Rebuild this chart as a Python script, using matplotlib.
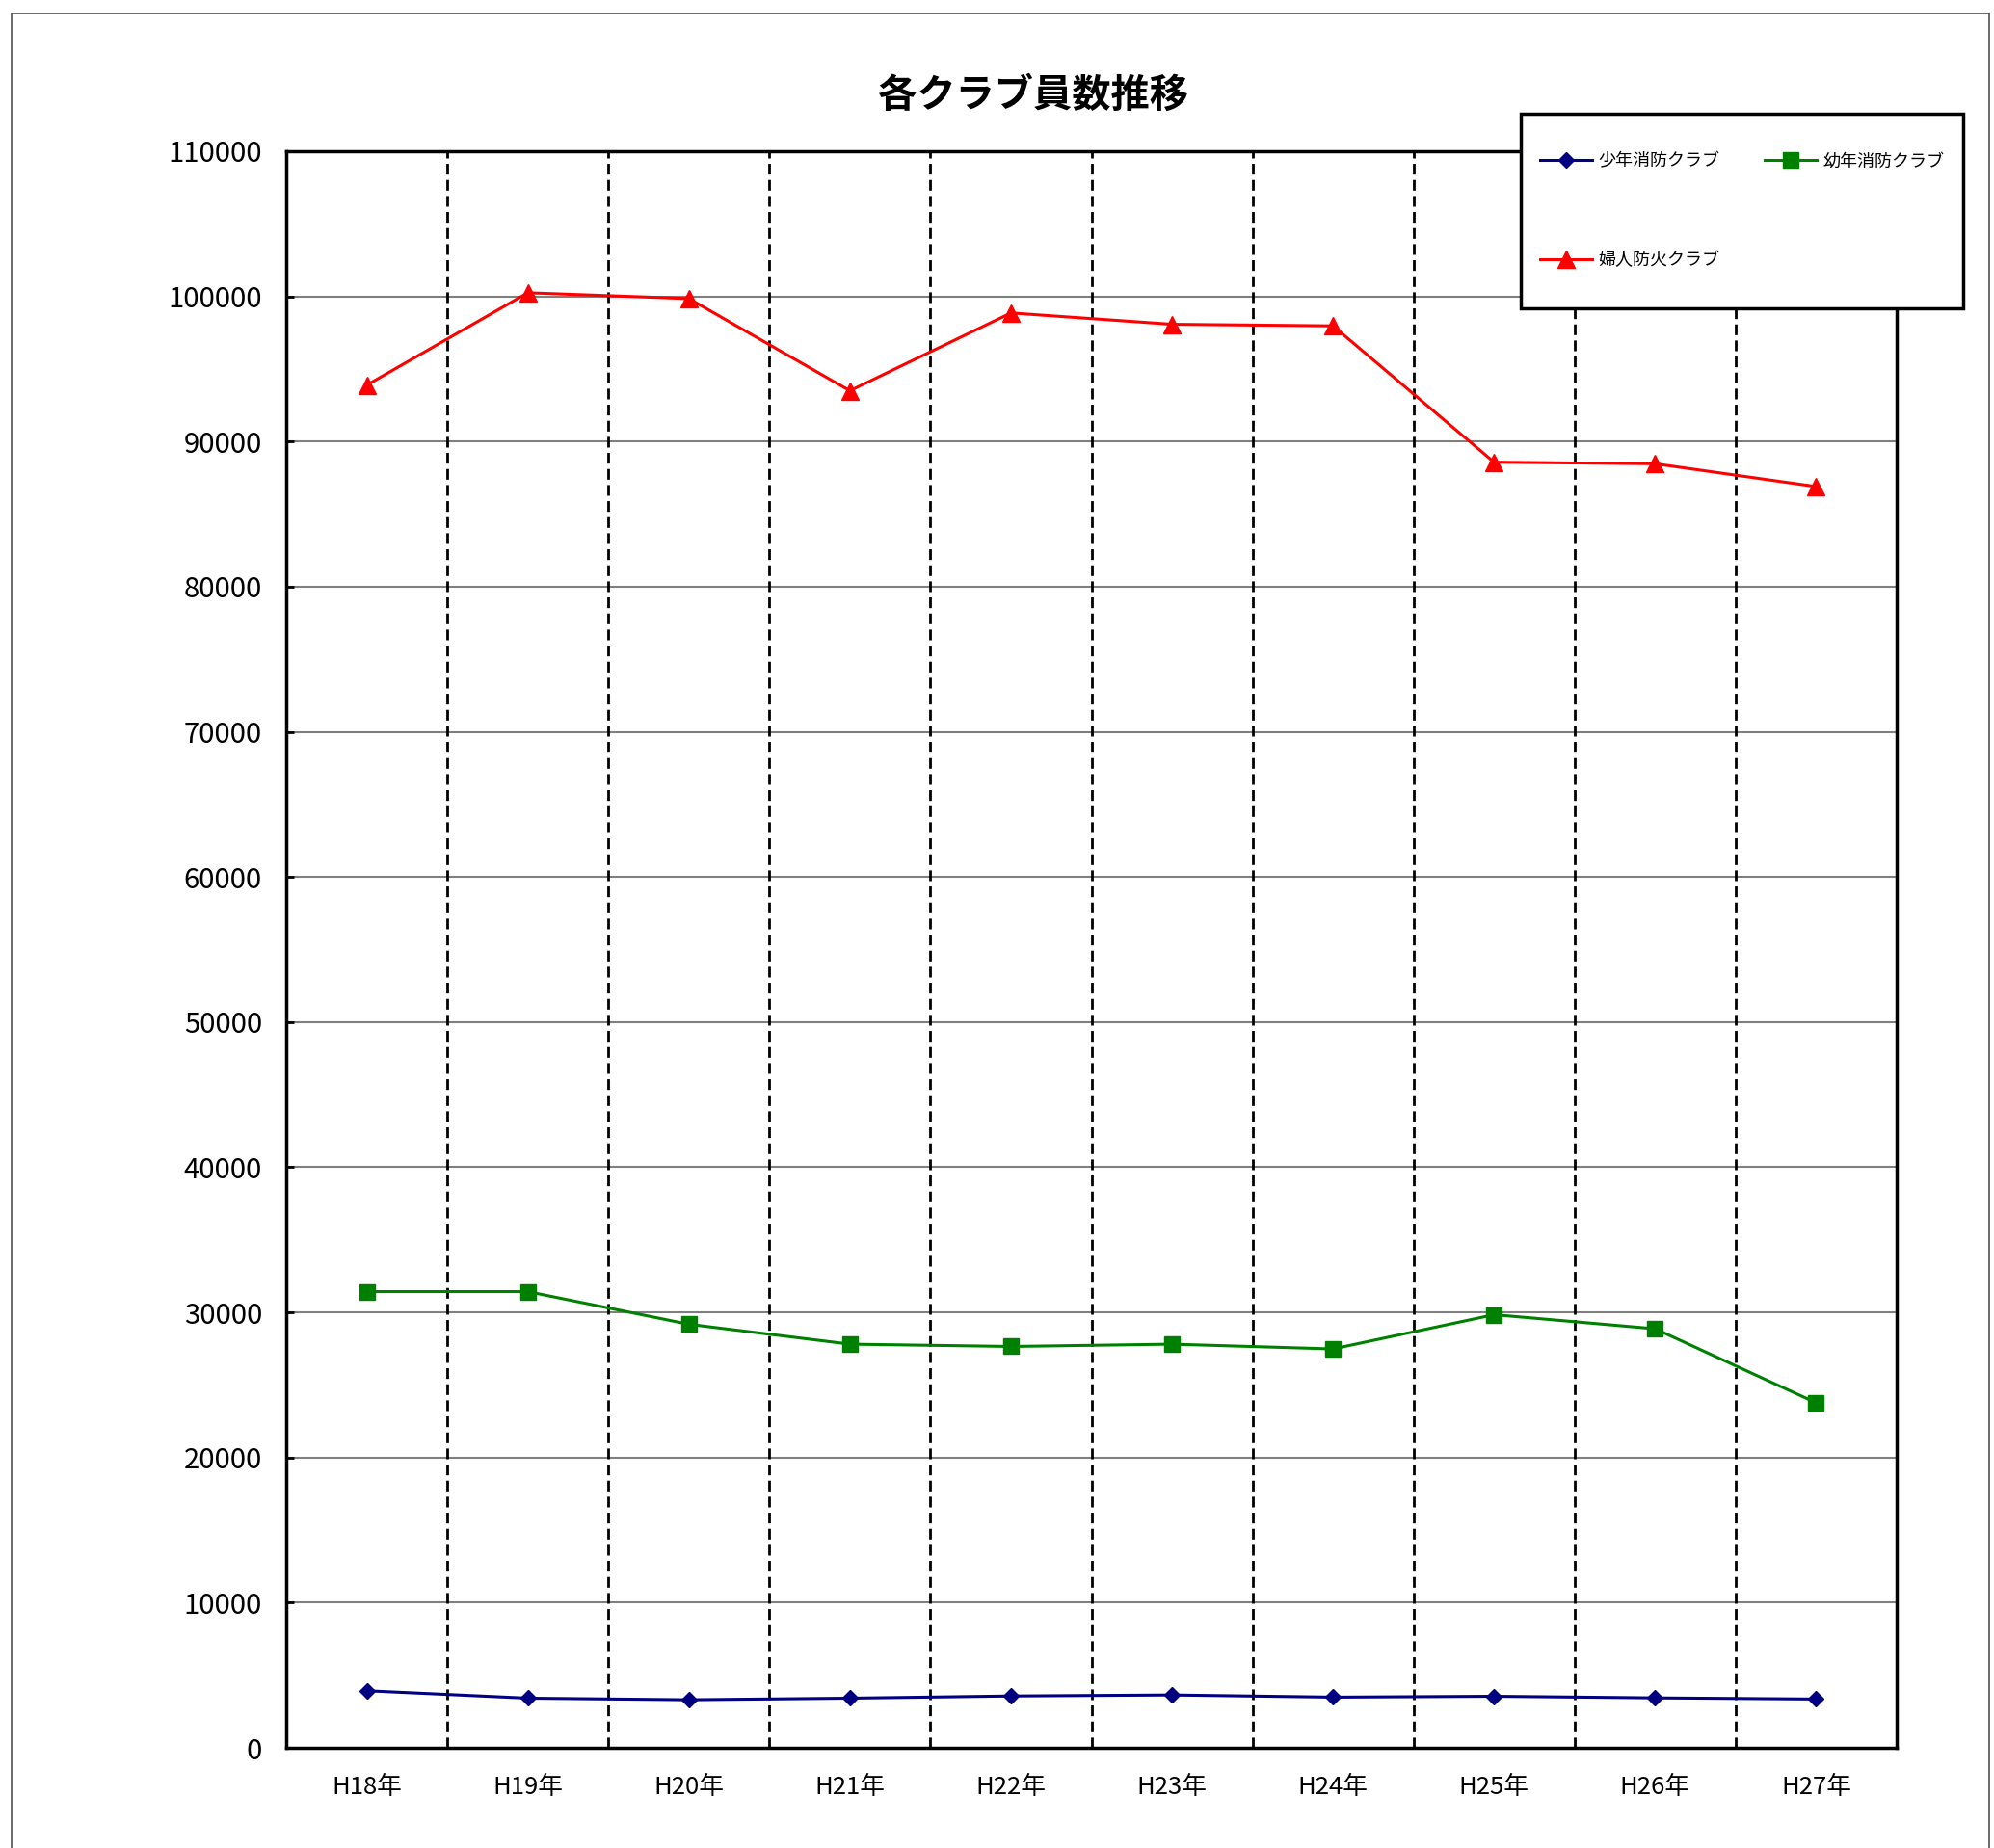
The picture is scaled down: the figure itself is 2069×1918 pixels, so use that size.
import matplotlib
matplotlib.use("Agg")
import matplotlib.pyplot as plt
from matplotlib.patches import Rectangle

plt.rcParams['font.family'] = ['Noto Sans CJK JP', 'DejaVu Sans']

# ---- data ----
categories = ["H18年", "H19年", "H20年", "H21年", "H22年", "H23年", "H24年", "H25年", "H26年", "H27年"]
shonen = [3930, 3420, 3310, 3420, 3570, 3640, 3490, 3550, 3440, 3360]
yonen = [31430, 31430, 29180, 27810, 27650, 27810, 27480, 29840, 28870, 23770]
fujin = [93890, 100250, 99850, 93500, 98860, 98080, 97970, 88580, 88470, 86900]
series_names = ["少年消防クラブ", "幼年消防クラブ", "婦人防火クラブ"]
y_ticks = list(range(0, 110001, 10000))
title = "各クラブ員数推移"

W, H = 2069, 1918
fig = plt.figure(figsize=(W / 100, H / 100), dpi=100)

# outer chart border
fig.patches.append(Rectangle((12 / W, -0.02), (2064 - 12) / W, 1 - 14 / H + 0.02,
                             transform=fig.transFigure, fill=False,
                             edgecolor="#505050", linewidth=1.2, zorder=0))

left, right, top, bottom = 297, 1968, 157, 1814
ax = fig.add_axes([left / W, 1 - bottom / H, (right - left) / W, (bottom - top) / H])

x = list(range(len(categories)))
l1, = ax.plot(x, shonen, color="#000080", marker="D", markersize=8.5, linewidth=2.2, zorder=5)
l2, = ax.plot(x, yonen, color="#008000", marker="s", markersize=11.5, linewidth=2.2, zorder=5)
l3, = ax.plot(x, fujin, color="#FF0000", marker="^", markersize=12.5, linewidth=2.2, zorder=5)

ax.set_xlim(-0.5, len(categories) - 0.5)
ax.set_ylim(0, 110000)
ax.set_yticks(y_ticks)
ax.set_yticklabels([str(v) for v in y_ticks], fontsize=21)
ax.set_xticks(x)
ax.set_xticklabels(categories, fontsize=18.5)

# horizontal grid
for v in y_ticks[1:-1]:
    ax.axhline(v, color="#7f7f7f", linewidth=1.5, zorder=1)
# vertical dashed separators between categories
for b in range(len(categories) - 1):
    ax.axvline(b + 0.5, color="black", linewidth=2, linestyle=(0, (4, 2)), zorder=2)

ax.tick_params(axis="x", length=0, pad=20)
ax.tick_params(axis="y", direction="in", length=6, width=2, pad=18)
for s in ax.spines.values():
    s.set_linewidth(2.5)
    s.set_color("black")

fig.text(1072 / W, 1 - 99 / H, title, fontsize=29, fontweight="bold", fontstyle="italic",
         ha="center", va="center")

# legend frame and legend
lx0, ly0, lx1, ly1 = 1578, 118, 2037, 320
fig.patches.append(Rectangle((lx0 / W, 1 - ly1 / H), (lx1 - lx0) / W, (ly1 - ly0) / H,
                             transform=fig.transFigure, facecolor="white",
                             edgecolor="black", linewidth=2.5, zorder=10))
leg = fig.legend([l1, l3, l2], [series_names[0], series_names[2], series_names[1]],
                 ncol=2, loc="center", bbox_to_anchor=((lx0 + lx1) / 2 / W, 1 - (ly0 + ly1) / 2 / H),
                 frameon=False, fontsize=13, handlelength=3, handletextpad=0.35,
                 columnspacing=2.6, labelspacing=4.7, borderpad=0.5)
leg.set_zorder(11)

fig.savefig("out.png", dpi=100)
